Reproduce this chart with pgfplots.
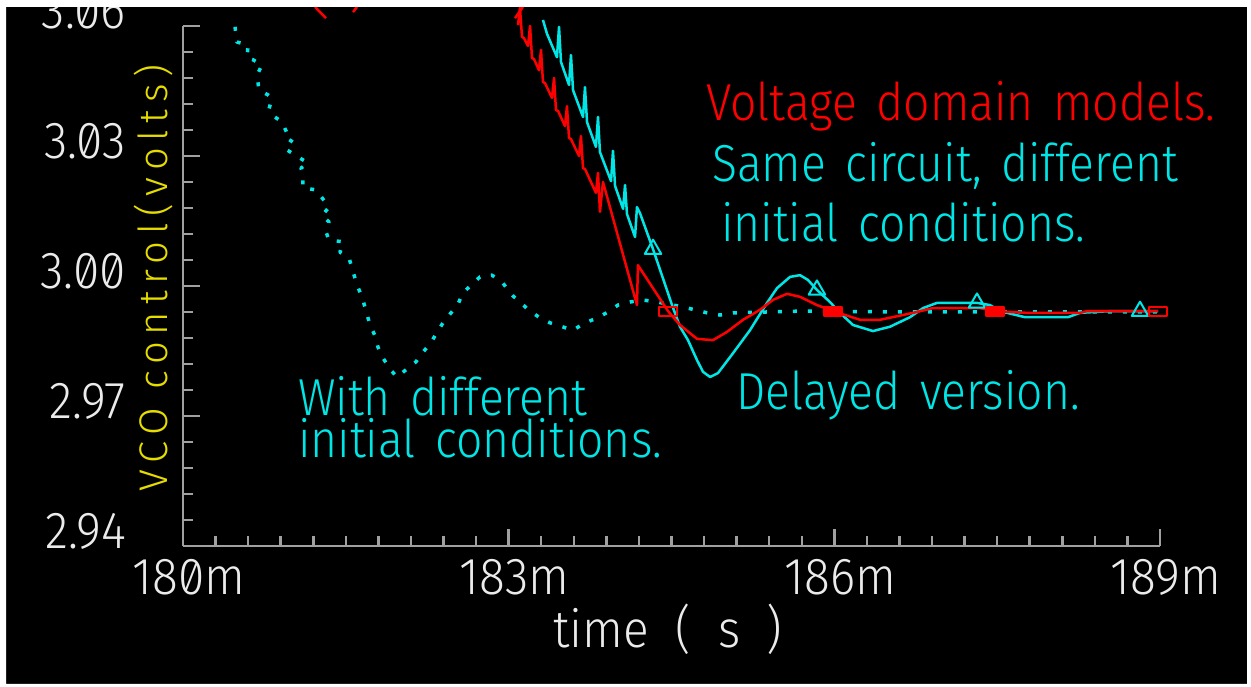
\documentclass[border=0pt]{standalone}
\usepackage{fontspec}
\setmainfont{Fira Sans}[UprightFont=* Light, Numbers=SlashedZero, FakeStretch=0.92]
\newfontfamily\annfamily{Fira Sans}[UprightFont=* Light, FakeStretch=0.89, WordSpace=1.5]
\newfontfamily\ylabfamily{Fira Sans}[UprightFont=* Light, LetterSpace=17]
\newfontfamily\xlabfamily{Fira Sans}[UprightFont=* Light, FakeStretch=0.92, WordSpace=2.0]
\usepackage{pgfplots}
\pgfplotsset{compat=1.18}

\definecolor{trcyan}{RGB}{0,230,230}
\definecolor{trred}{RGB}{255,0,0}
\definecolor{vyellow}{RGB}{230,220,0}
\definecolor{axgrey}{RGB}{160,160,160}
\definecolor{lblwhite}{RGB}{235,235,235}

\newcommand\ticksfont{\fontsize{52}{60}\selectfont}
\newcommand\annfont{\annfamily\fontsize{52}{60}\selectfont}
\newcommand\anntight{\annfamily\fontsize{52}{42}\selectfont}
\newcommand\ylabfont{\ylabfamily\fontsize{40}{48}\selectfont}
\newcommand\xlabfont{\xlabfamily\fontsize{52}{60}\selectfont}

\begin{document}
\begin{tikzpicture}[x=1pt,y=1pt]
\useasboundingbox (0,0) rectangle (1251,687);
\fill[black] (0,0) rectangle (1251,687);
\begin{axis}[
  at={(183pt,141pt)}, anchor=south west,
  scale only axis, width=977pt, height=520pt,
  xmin=180, xmax=189, ymin=2.94, ymax=3.06,
  clip=false,
  axis lines*=left,
  axis line style={-, line width=2.5pt, draw=axgrey},
  xtick={180,183,186,189}, xticklabels={180m,183m,186m,189m},
  ytick={2.94,2.97,3.00,3.03,3.06}, yticklabels={2.94,2.97,3.00,3.03,3.06},
  minor x tick num=9, minor y tick num=4,
  tick align=inside,
  major tick length=17pt, minor tick length=10pt,
  tick style={line width=2.5pt, draw=axgrey},
  ticklabel style={font=\ticksfont, text=lblwhite, inner sep=0pt},
  xticklabel style={anchor=north, yshift=-13pt, xshift=6pt},
  yticklabel style={anchor=base east, xshift=-57pt, yshift=-3pt},
  xlabel={time ( s )}, ylabel={VCO control(volts)},
  xlabel style={at={(axis description cs:0.4964,-0.196)}, anchor=base, font=\xlabfont, text=lblwhite, inner sep=0pt},
  ylabel style={at={(axis description cs:-0.01638,0.5154)}, anchor=base, font=\ylabfont, text=vyellow, inner sep=0pt},
  every axis plot/.append style={line join=round},
]

% different initial conditions, dotted trace
\addplot[trcyan, line width=3.5pt, dash pattern=on 4pt off 11pt] coordinates {
(180.479,3.0598) (180.497,3.0563) (180.599,3.0556) (180.590,3.0526) (180.645,3.0522)
(180.728,3.0510) (180.682,3.0487) (180.700,3.0452) (180.783,3.0441) (180.820,3.0434)
(180.792,3.0408) (180.820,3.0395) (180.912,3.0378) (180.958,3.0353) (180.940,3.0344)
(181.013,3.0332) (180.958,3.0314) (181.059,3.0298) (181.151,3.0284) (181.087,3.0272)
(181.105,3.0256) (181.105,3.0226) (181.225,3.0222) (181.345,3.0182) (181.280,3.0162)
(181.345,3.0148) (181.317,3.0125) (181.345,3.0106) (181.474,3.0102) (181.446,3.0078)
(181.529,3.0065) (181.603,3.0002) (181.649,2.9975) (181.723,2.9910) (181.769,2.9885)
(181.796,2.9859) (181.842,2.9834) (181.907,2.9808) (181.971,2.9790) (182.146,2.9825)
(182.202,2.9845) (182.275,2.9866) (182.395,2.9915) (182.533,2.9958) (182.579,2.9984)
(182.653,3.0002) (182.736,3.0021) (182.846,3.0025) (182.939,3.0009) (183.040,2.9977)
(183.197,2.9942) (183.280,2.9928) (183.381,2.9915) (183.593,2.9898) (183.703,2.9915)
(183.814,2.9926) (183.915,2.9940) (184.007,2.9956) (184.118,2.9963) (184.228,2.9968)
(184.366,2.9963) (184.597,2.9952) (184.717,2.9945) (184.827,2.9938) (184.947,2.9933)
(185.067,2.9938) (185.684,2.9942) (186.605,2.9940) (187.526,2.9940) (188.447,2.9940)
(188.981,2.9940)
};

% same circuit, different initial conditions (delayed version)
\addplot[trcyan, line width=2.5pt] coordinates {
(183.316,3.0614) (183.353,3.0582)
(183.445,3.0528) (183.464,3.0598) (183.482,3.0517)
(183.556,3.0464) (183.574,3.0533) (183.593,3.0452)
(183.685,3.0390) (183.703,3.0459) (183.722,3.0378)
(183.804,3.0321) (183.823,3.0390) (183.841,3.0309)
(183.943,3.0242) (183.961,3.0312) (183.980,3.0231)
(184.054,3.0178) (184.072,3.0233) (184.090,3.0166)
(184.164,3.0113) (184.182,3.0182) (184.210,3.0168)
(184.330,3.0085) (184.505,2.9956) (184.578,2.9906) (184.652,2.9875)
(184.735,2.9829) (184.790,2.9802) (184.855,2.9790) (184.928,2.9799)
(185.067,2.9845) (185.223,2.9898) (185.380,2.9961) (185.472,2.9995)
(185.592,3.0021) (185.684,3.0025) (185.757,3.0014) (185.840,2.9991)
(185.960,2.9963) (186.052,2.9938) (186.172,2.9910) (186.356,2.9896)
(186.513,2.9906) (186.697,2.9928) (186.817,2.9949) (186.946,2.9961)
(187.314,2.9961) (187.434,2.9956) (187.526,2.9942) (187.756,2.9928)
(188.152,2.9928) (188.263,2.9938) (188.539,2.9942) (188.816,2.9942)
(188.982,2.9942)
};
\addplot[only marks, mark=triangle, mark size=9.5pt, trcyan,
  mark options={line width=2pt, solid}] coordinates {
(184.330,3.0085) (185.840,2.9991) (187.314,2.9961) (188.816,2.9942)
};

% voltage domain models
\addplot[trred, line width=2.5pt] coordinates {(181.216,3.0644) (181.317,3.0618)};
\addplot[trred, line width=2.5pt] coordinates {(181.566,3.0632) (181.603,3.0644)};
\addplot[trred, line width=2.5pt] coordinates {(183.058,3.0618) (183.132,3.0644)};
\addplot[trred, line width=2.5pt] coordinates {
(183.086,3.0602) (183.104,3.0642) (183.123,3.0575) (183.141,3.0572)
(183.178,3.0554) (183.197,3.0600) (183.215,3.0526) (183.233,3.0524)
(183.279,3.0498) (183.298,3.0545) (183.316,3.0471) (183.335,3.0468)
(183.399,3.0434) (183.418,3.0480) (183.436,3.0406) (183.455,3.0404)
(183.519,3.0369) (183.537,3.0415) (183.556,3.0342) (183.574,3.0339)
(183.648,3.0300) (183.666,3.0346) (183.685,3.0272) (183.703,3.0270)
(183.804,3.0215) (183.823,3.0261) (183.841,3.0171) (183.869,3.0240)
(184.182,2.9956) (184.191,3.0048) (184.468,2.9942) (184.578,2.9910)
(184.735,2.9878) (184.882,2.9875) (185.011,2.9894) (185.159,2.9922)
(185.315,2.9945) (185.435,2.9968) (185.564,2.9982) (185.684,2.9975)
(185.840,2.9956) (185.988,2.9942) (186.237,2.9922) (186.421,2.9922)
(186.725,2.9938) (186.909,2.9949) (187.342,2.9949) (187.480,2.9942)
(187.775,2.9938) (188.263,2.9938) (188.328,2.9942) (188.982,2.9942)
};
\addplot[only marks, mark=square, mark size=4.5pt, trred,
  mark options={line width=2pt, xscale=1.9}] coordinates {
(184.468,2.9942) (188.982,2.9942)
};
\addplot[only marks, mark=square*, mark size=4.5pt, trred,
  mark options={line width=2pt, xscale=1.9}] coordinates {
(185.988,2.9942) (187.480,2.9942)
};

% annotations
\node[anchor=base west, text=trred, font=\annfont, inner sep=0pt] at (axis cs:184.818,3.0383) {Voltage domain models.};
\node[anchor=base west, text=trcyan, font=\annfont, inner sep=0pt] at (axis cs:184.873,3.0242) {Same circuit, different};
\node[anchor=base west, text=trcyan, font=\annfont, inner sep=0pt] at (axis cs:184.956,3.0102) {initial conditions.};
\node[anchor=north west, align=left, text=trcyan, font=\anntight, inner sep=0pt] at (axis cs:181.059,2.9793) {With different\\initial conditions.};
\node[anchor=base west, text=trcyan, font=\annfont, inner sep=0pt] at (axis cs:185.094,2.9714) {Delayed version.};
\end{axis}
% paper margin around the plot window
\fill[white, even odd rule] (0,0) rectangle (1251,687) (6,3) rectangle (1247,680);
\end{tikzpicture}
\end{document}
